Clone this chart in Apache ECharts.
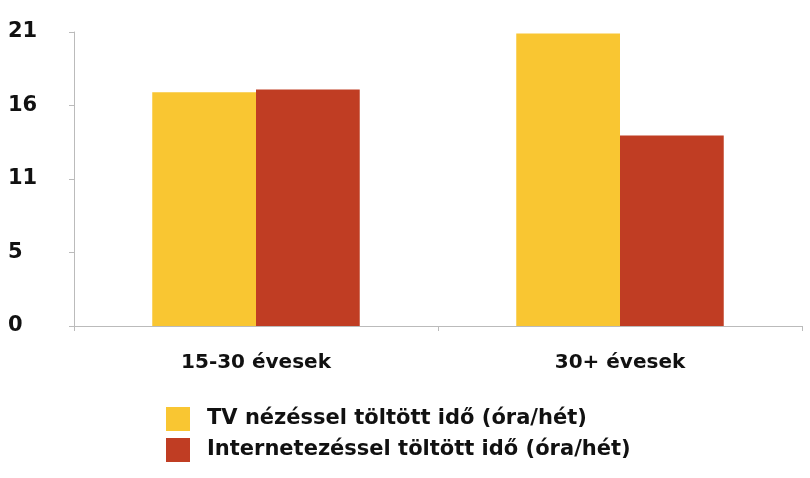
<!DOCTYPE html>
<html lang="hu">
<head>
    <meta charset="UTF-8">
    <title>TV és internet</title>
    <script src="https://cdn.jsdelivr.net/npm/echarts@6/dist/echarts.min.js"></script>
    <style>
        html, body { margin: 0; padding: 0; background: #fff; }
        #main { width: 810px; height: 478px; }
    </style>
</head>
<body>
<div id="main"></div>
<script type="text/javascript">
    // adatok
    var categories = ['15-30 évesek', '30+ évesek'];
    var seriesNames = ['TV nézéssel töltött idő (óra/hét)', 'Internetezéssel töltött idő (óra/hét)'];
    var tvValues = [16.7, 20.9];
    var netValues = [16.9, 13.6];

    var myChart = echarts.init(document.getElementById('main'));

    var fontFam = '"DejaVu Sans", sans-serif';

    var option = {
        animation: false,
        grid: {left: 74, right: 8, top: 32, bottom: 152},
        legend: {
            orient: 'vertical',
            left: 166,
            top: 407,
            padding: 0,
            itemWidth: 24,
            itemHeight: 24,
            itemGap: 7,
            icon: 'rect',
            textStyle: {fontFamily: fontFam, fontSize: 21, fontWeight: 'bold', color: '#111', padding: [0, 0, 0, 12]},
            data: seriesNames
        },
        xAxis: {
            type: 'category',
            data: categories,
            axisLine: {lineStyle: {color: '#bbb', width: 1}},
            axisTick: {show: true, length: 5, lineStyle: {color: '#bbb'}},
            axisLabel: {fontFamily: fontFam, fontSize: 20, fontWeight: 'bold', color: '#111', margin: 27}
        },
        yAxis: {
            type: 'value',
            min: 0,
            max: 21,
            interval: 5.25,
            splitLine: {show: false},
            axisLine: {show: true, lineStyle: {color: '#bbb', width: 1}},
            axisTick: {show: true, length: 5, lineStyle: {color: '#bbb'}},
            axisLabel: {
                fontFamily: fontFam, fontSize: 21, fontWeight: 'bold', color: '#111', margin: 66,
                align: 'left',
                formatter: function (v) { return Math.round(v); }
            }
        },
        series: [
            {
                name: seriesNames[0],
                type: 'bar',
                data: tvValues,
                barWidth: '28.5%',
                barGap: '0%',
                itemStyle: {color: '#F9C632'}
            },
            {
                name: seriesNames[1],
                type: 'bar',
                data: netValues,
                barWidth: '28.5%',
                itemStyle: {color: '#C03D23'}
            }
        ]
    };

    myChart.setOption(option);
</script>
</body>
</html>
